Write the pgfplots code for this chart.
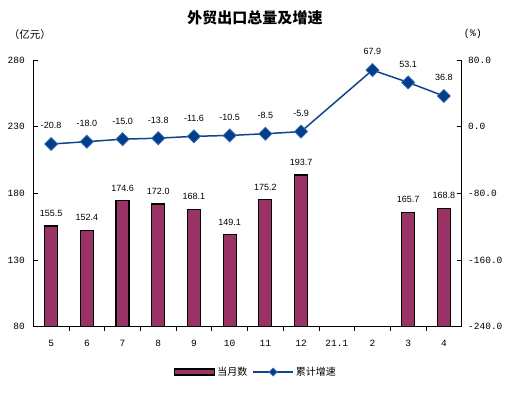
\documentclass[border=0pt]{standalone}
\usepackage{pgfplots}
\pgfplotsset{compat=1.18}
\usepackage{fontspec}
\setmainfont{Liberation Sans}
\newfontfamily\cjk{Noto Sans CJK SC}
\newfontfamily\mono{Liberation Mono}
\definecolor{barcol}{RGB}{153,51,102}
\definecolor{linecol}{RGB}{16,68,140}
\definecolor{markcol}{RGB}{0,62,140}
\definecolor{markedge}{RGB}{50,105,175}
\pgfplotsset{
  mylineleg/.style={legend image code/.code={\draw[##1, mark size=2.8pt, mark repeat=2, mark phase=2] plot coordinates {(0pt,0pt) (20pt,0pt) (40pt,0pt)};}},
  mybarleg/.style={legend image code/.code={\draw[fill=barcol,draw=black,line width=1.2pt] (0pt,-3pt) rectangle (40pt,3pt);}},
}
\pgfplotstableread{
x y
0 -20.8
1 -18.0
2 -15.0
3 -13.8
4 -11.6
5 -10.5
6 -8.5
7 -5.9
9 67.9
10 53.1
11 36.8
}\growth
\pgfplotstableread{
x y
0 155.5
1 152.4
2 174.6
3 172.0
4 168.1
5 149.1
6 175.2
7 193.7
10 165.7
11 168.8
}\monthly
\begin{document}
\begin{tikzpicture}
\path[use as bounding box] (-33.3pt,-65.3pt) rectangle (482.7pt,326.7pt);
\begin{axis}[
  scale only axis, width=428.4pt, height=266.7pt,
  at={(0pt,0pt)}, anchor=south west,
  xmin=-0.5, xmax=11.5, ymin=80, ymax=280,
  axis x line*=bottom, axis y line*=left,
  axis line style={black, line width=0.8pt},
  tick align=inside,
  xtick={0,...,11},
  xticklabels={5,6,7,8,9,10,11,12,21.1,2,3,4},
  major x tick style={draw=none},
  minor xtick={0.5,1.5,...,10.5},
  minor tick length=4pt,
  ytick={80,130,180,230,280},
  major tick length=5pt,
  tick style={black, line width=0.8pt},
  /pgf/number format/assume math mode=true,
  ticklabel style={font=\mono\fontsize{9.5}{11}\selectfont},
  yticklabel style={xshift=-5pt},
  xticklabel style={yshift=-5pt},
  ybar, bar width=13pt,
  nodes near coords={\pgfmathprintnumber[fixed,fixed zerofill,precision=1]{\pgfplotspointmeta}},
  nodes near coords style={font=\fontsize{9}{10}\selectfont, yshift=5.5pt},
  clip=false,
]
\addplot[fill=barcol, draw=black, line width=1.2pt] table[x=x,y=y] {\monthly};
\node[font=\cjk\bfseries\fontsize{15}{17}\selectfont] at (rel axis cs:0.5175,1.157) {外贸出口总量及增速};
\node[font=\cjk\fontsize{10.5}{12}\selectfont] at (rel axis cs:-0.008,1.094) {（亿元）};
\node[font=\mono\fontsize{10}{12}\selectfont] at (rel axis cs:1.026,1.097) {(\%)};
\end{axis}
\begin{axis}[
  scale only axis, width=428.4pt, height=266.7pt,
  at={(0pt,0pt)}, anchor=south west,
  xmin=-0.5, xmax=11.5, ymin=-240, ymax=80,
  axis x line=none, axis y line*=right,
  axis line style={black, line width=0.8pt},
  tick align=inside,
  ytick={-240,-160,-80,0,80},
  major tick length=5pt,
  tick style={black, line width=0.8pt},
  /pgf/number format/assume math mode=true,
  yticklabel style={font=\mono\fontsize{9.5}{11}\selectfont, xshift=3pt,
    /pgf/number format/.cd, fixed, fixed zerofill, precision=1},
  clip=false,
  legend style={at={(0.52,-0.17)}, anchor=center, draw=none, fill=none,
    legend columns=2, font=\cjk\fontsize{10}{12}\selectfont,
    /tikz/every even column/.append style={column sep=3pt}},
]
\addlegendimage{mybarleg}
\addlegendentry{当月数}
\addplot[linecol, line width=1.5pt, mark=square*, mark size=4.6pt,
  mark options={rotate=45, fill=markcol, draw=markedge, line width=0.8pt},
  mylineleg
] table[x=x,y=y] {\growth};
\addlegendentry{累计增速}
\addplot[draw=none, mark=none, forget plot,
  nodes near coords={\pgfmathprintnumber[fixed,fixed zerofill,precision=1]{\pgfplotspointmeta}},
  nodes near coords style={font=\fontsize{9}{10}\selectfont, anchor=south, yshift=11.5pt, black},
] table[x=x,y=y] {\growth};
\end{axis}
\end{tikzpicture}
\end{document}
